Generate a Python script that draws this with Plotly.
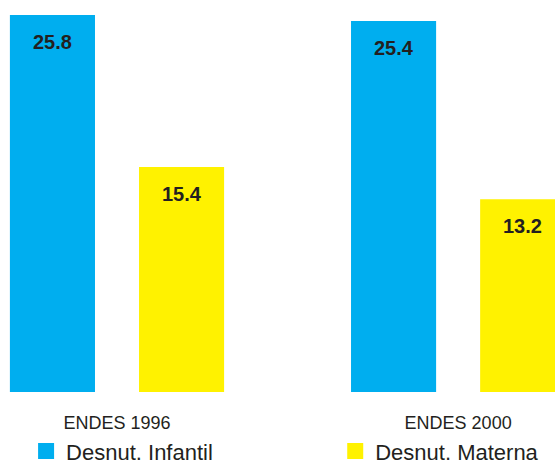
import plotly.graph_objects as go

# Survey rounds and malnutrition rates (%)
categories = ["ENDES 1996", "ENDES 2000"]
infantil = [25.8, 25.4]
materna = [15.4, 13.2]

series = [
    ("Desnut. Infantil", infantil, "#00aeef"),
    ("Desnut. Materna", materna, "#fff200"),
]

BARGAP = 0.243
BARGROUPGAP = 0.341
FONT = "Liberation Sans, Arial, sans-serif"
TEXT = "#231f20"

fig = go.Figure()
for name, vals, color in series:
    fig.add_trace(go.Bar(
        x=categories, y=vals, name=name, marker_color=color,
        marker_line_width=0, showlegend=False,
    ))
# legend entries with larger square swatches, one legend box per series
legend_ids = ["legend", "legend2"]
for (name, vals, color), lid in zip(series, legend_ids):
    fig.add_trace(go.Scatter(
        x=[None], y=[None], mode="markers", name=name,
        marker=dict(symbol="square", size=18, color=color),
        showlegend=True, legend=lid,
    ))

# value labels just below the top of each bar
slot = (1 - BARGAP) / len(series)
for i, (name, vals, color) in enumerate(series):
    off = -(1 - BARGAP) / 2 + slot * (i + 0.5)
    for j, v in enumerate(vals):
        fig.add_annotation(
            x=j + off, y=v, xref="x", yref="y", text=f"<b>{v}</b>",
            showarrow=False, yanchor="top", yshift=-14,
            font=dict(family=FONT, size=20, color=TEXT),
        )

legend_style = dict(
    orientation="h", xanchor="left", y=-0.151, yanchor="middle",
    font=dict(size=22, color=TEXT), itemsizing="trace",
    bgcolor="rgba(0,0,0,0)", borderwidth=0,
)

fig.update_layout(
    width=555, height=463,
    margin=dict(l=0, r=0, t=0, b=71, autoexpand=False),
    paper_bgcolor="white", plot_bgcolor="white",
    barmode="group", bargap=BARGAP, bargroupgap=BARGROUPGAP,
    font=dict(family=FONT, color=TEXT),
    legend=dict(x=0.047, **legend_style),
    legend2=dict(x=0.604, **legend_style),
)
fig.update_xaxes(
    range=[-0.343, 1.284], showgrid=False, zeroline=False, showline=False,
    ticks="", tickfont=dict(size=18, color=TEXT), ticklabelstandoff=18,
)
fig.update_yaxes(
    range=[0, 26.83], visible=False, showgrid=False, zeroline=False,
)

fig.write_html("out.html")
